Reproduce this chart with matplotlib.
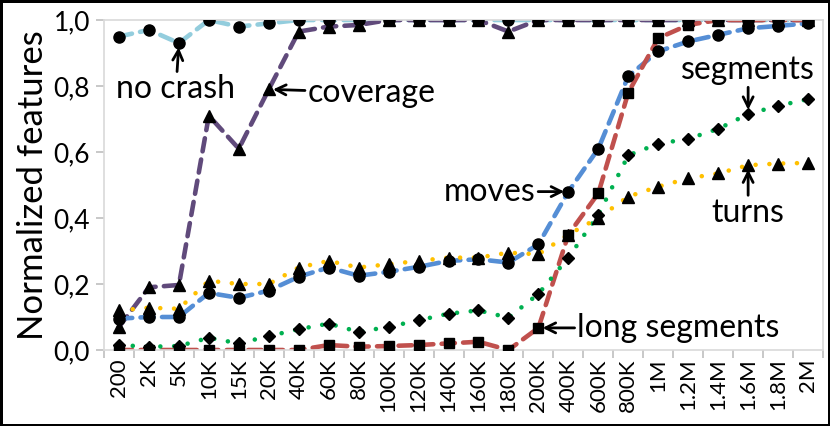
import matplotlib.pyplot as plt

plt.rcParams["font.family"] = ["Lato", "DejaVu Sans"]

categories = ["200", "2K", "5K", "10K", "15K", "20K", "40K", "60K", "80K",
              "100K", "120K", "140K", "160K", "180K", "200K", "400K", "600K",
              "800K", "1M", "1.2M", "1.4M", "1.6M", "1.8M", "2M"]

no_crash = [0.95, 0.97, 0.93, 1.0, 0.98, 0.99, 1.0, 1.0, 1.0, 1.0, 1.0, 1.0,
            1.0, 1.0, 1.0, 1.0, 1.0, 1.0, 1.0, 1.0, 1.0, 1.0, 1.0, 1.0]
coverage = [0.07, 0.19, 0.197, 0.71, 0.61, 0.79, 0.965, 0.98, 0.985, 1.0, 1.0,
            1.0, 1.0, 0.965, 1.0, 1.0, 1.0, 1.0, 1.0, 1.0, 1.0, 1.0, 1.0, 1.0]
moves = [0.095, 0.10, 0.10, 0.173, 0.158, 0.18, 0.222, 0.25, 0.225, 0.237,
         0.252, 0.27, 0.275, 0.265, 0.32, 0.48, 0.61, 0.83, 0.905, 0.935,
         0.955, 0.975, 0.982, 0.99]
long_segments = [0.0, 0.0, 0.0, 0.0, 0.0, 0.0, 0.0, 0.015, 0.01, 0.012, 0.015,
                 0.02, 0.025, 0.0, 0.067, 0.35, 0.475, 0.78, 0.945, 0.985,
                 1.0, 1.0, 1.0, 1.0]
segments = [0.015, 0.01, 0.012, 0.037, 0.02, 0.042, 0.063, 0.08, 0.055, 0.07,
            0.09, 0.11, 0.12, 0.098, 0.17, 0.28, 0.41, 0.59, 0.625, 0.64,
            0.67, 0.715, 0.74, 0.76]
turns = [0.12, 0.128, 0.125, 0.21, 0.2, 0.2, 0.25, 0.27, 0.25, 0.26, 0.27,
         0.28, 0.28, 0.295, 0.29, 0.35, 0.40, 0.465, 0.495, 0.52, 0.535,
         0.56, 0.565, 0.567]

dash = (0, (2.9, 1.8))
dots = (0, (0.01, 3.0))
series = [
    (no_crash, "#93CDDD", dash, "o", 8),
    (coverage, "#604A7B", dash, "^", 8),
    (moves, "#558ED5", dash, "o", 8),
    (long_segments, "#C0504D", dash, "s", 6.5),
    (segments, "#00B050", dots, "D", 6.5),
    (turns, "#FFC000", dots, "^", 8),
]

fig = plt.figure(figsize=(8.3, 4.26), dpi=100, linewidth=2.5, edgecolor="black")
ax = fig.add_axes([0.1253, 0.1784, 0.8663, 0.7746])
x = list(range(len(categories)))

for values, color, ls, marker, ms in series:
    ax.plot(x, values, color=color, linestyle=ls, linewidth=3.3,
            dash_capstyle="round", solid_capstyle="round", zorder=2)
for values, color, ls, marker, ms in series:
    ax.plot(x, values, linestyle="none", marker=marker, markersize=ms,
            color="black", zorder=3)

ax.set_xlim(-0.5, len(categories) - 0.5)
ax.set_ylim(0, 1.0)
ax.set_xticks(x)
ax.set_xticklabels(categories, rotation=90, fontsize=16)
ax.set_xticks([i + 0.5 for i in range(-1, len(categories))], minor=True)
ax.tick_params(axis="x", which="major", length=0, pad=6)
ax.tick_params(axis="x", which="minor", length=6, color="#BFBFBF", width=1.2)
ax.set_yticks([0, 0.2, 0.4, 0.6, 0.8, 1.0])
ax.set_yticklabels(["0,0", "0,2", "0,4", "0,6", "0,8", "1,0"], fontsize=19)
ax.tick_params(axis="y", length=6, color="#BFBFBF", width=1.2, pad=4)
for s in ax.spines.values():
    s.set_color("#D9D9D9")
    s.set_linewidth(1.2)
ax.set_ylabel("Normalized features", fontsize=25, labelpad=3)

arrow = dict(arrowstyle="->", color="black", lw=2, mutation_scale=18,
             shrinkA=0, shrinkB=3)
fs = 23
ax.annotate("no crash", xy=(2, no_crash[2]), xytext=(1.9, 0.79),
            ha="center", va="center", fontsize=fs, arrowprops=arrow)
ax.annotate("coverage", xy=(5, coverage[5]), xytext=(6.3, 0.78),
            ha="left", va="center", fontsize=fs, arrowprops=arrow)
ax.annotate("moves", xy=(15, moves[15]), xytext=(13.9, 0.48),
            ha="right", va="center", fontsize=fs, arrowprops=arrow)
ax.annotate("segments", xy=(21, segments[21]), xytext=(21, 0.85),
            ha="center", va="center", fontsize=fs, arrowprops=arrow)
ax.annotate("turns", xy=(21, turns[21]), xytext=(21, 0.415),
            ha="center", va="center", fontsize=fs, arrowprops=arrow)
ax.annotate("long segments", xy=(14, long_segments[14]), xytext=(15.3, 0.067),
            ha="left", va="center", fontsize=fs, arrowprops=arrow)

plt.savefig("out.png", dpi=100)
